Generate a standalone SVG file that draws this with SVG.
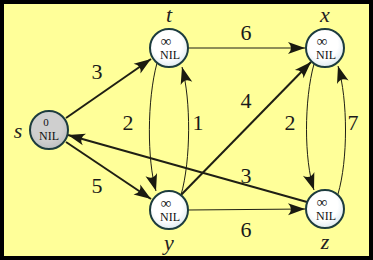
<svg xmlns="http://www.w3.org/2000/svg" width="373" height="260" viewBox="0 0 373 260">
  <style>
    .edge { fill: none; stroke: #1f1f14; }
    .thick { stroke-width: 2; }
    .thin { stroke-width: 1; }
    .node { stroke: #1d3c3e; stroke-width: 2; }
    .val { font-family: "Liberation Serif", "Times New Roman", serif; font-size: 12px; fill: #111; text-anchor: middle; }
    .inf { font-size: 15px; }
    .zero { font-size: 11px; }
    .name { font-family: "Liberation Serif", "Times New Roman", serif; font-style: italic; font-size: 22px; fill: #222; text-anchor: middle; }
    .w { font-family: "Liberation Serif", "Times New Roman", serif; font-size: 22px; fill: #1a1a1a; text-anchor: middle; }
  </style>
  <defs>
    <radialGradient id="vertexFill" cx="0.45" cy="0.4" r="0.65">
      <stop offset="0.6" stop-color="#ffffff"/>
      <stop offset="1" stop-color="#d9e6ee"/>
    </radialGradient>
    <radialGradient id="sourceFill" cx="0.45" cy="0.4" r="0.65">
      <stop offset="0.6" stop-color="#cfcfcf"/>
      <stop offset="1" stop-color="#b9bcbf"/>
    </radialGradient>
    <marker id="arrow" markerUnits="userSpaceOnUse" markerWidth="20" markerHeight="14" viewBox="-18 -7 20 14" refX="0" refY="0" orient="auto">
      <path d="M0,0 L-17,-6 Q-11,0 -17,6 Z" fill="#1a1a10"/>
    </marker>
  </defs>

  <!-- frame -->
  <rect x="2" y="2" width="369" height="256" fill="#ffff99" stroke="#000" stroke-width="4"/>

  <!-- connectors -->
  <g id="edges">
    <line class="edge thick" x1="66" y1="118" x2="151" y2="59" marker-end="url(#arrow)"/>
    <line class="edge thick" x1="66" y1="142" x2="151" y2="199" marker-end="url(#arrow)"/>
    <line class="edge thick" x1="181" y1="195" x2="311" y2="62" marker-end="url(#arrow)"/>
    <line class="edge thick" x1="307" y1="202" x2="68" y2="135" marker-end="url(#arrow)"/>
    <line class="edge thin" x1="188" y1="48" x2="305" y2="48" marker-end="url(#arrow)"/>
    <line class="edge thin" x1="188" y1="210" x2="305" y2="209" marker-end="url(#arrow)"/>
    <path class="edge thin" d="M157,63 C147,100 147,160 156,191" marker-end="url(#arrow)"/>
    <path class="edge thin" d="M181,195 C191,160 191,100 182,67" marker-end="url(#arrow)"/>
    <path class="edge thin" d="M314,64 C304,100 304,160 314,190" marker-end="url(#arrow)"/>
    <path class="edge thin" d="M338,194 C348,160 348,100 338,66" marker-end="url(#arrow)"/>
  </g>

  <!-- edge weights -->
  <g id="weights">
    <text class="w" x="97" y="79">3</text>
    <text class="w" x="246" y="40">6</text>
    <text class="w" x="128" y="130">2</text>
    <text class="w" x="198" y="130">1</text>
    <text class="w" x="246" y="108">4</text>
    <text class="w" x="290" y="130">2</text>
    <text class="w" x="353" y="130">7</text>
    <text class="w" x="97" y="193">5</text>
    <text class="w" x="246" y="183">3</text>
    <text class="w" x="246" y="237">6</text>
  </g>

  <!-- vertices -->
  <g id="node-s">
    <circle class="node" cx="49" cy="130" r="19" fill="url(#sourceFill)"/>
    <text class="val zero" x="46" y="126">0</text>
    <text class="val" x="49" y="140">NIL</text>
    <text class="name" x="18" y="138">s</text>
  </g>
  <g id="node-t">
    <circle class="node" cx="169" cy="48" r="19" fill="url(#vertexFill)"/>
    <text class="val inf" x="166" y="46">∞</text>
    <text class="val" x="170" y="59">NIL</text>
    <text class="name" x="169" y="22">t</text>
  </g>
  <g id="node-x">
    <circle class="node" cx="325" cy="48" r="19" fill="url(#vertexFill)"/>
    <text class="val inf" x="322" y="46">∞</text>
    <text class="val" x="326" y="59">NIL</text>
    <text class="name" x="325" y="22">x</text>
  </g>
  <g id="node-y">
    <circle class="node" cx="169" cy="210" r="19" fill="url(#vertexFill)"/>
    <text class="val inf" x="166" y="208">∞</text>
    <text class="val" x="170" y="221">NIL</text>
    <text class="name" x="169" y="250">y</text>
  </g>
  <g id="node-z">
    <circle class="node" cx="325" cy="209" r="19" fill="url(#vertexFill)"/>
    <text class="val inf" x="322" y="207">∞</text>
    <text class="val" x="326" y="220">NIL</text>
    <text class="name" x="325" y="249">z</text>
  </g>
</svg>
